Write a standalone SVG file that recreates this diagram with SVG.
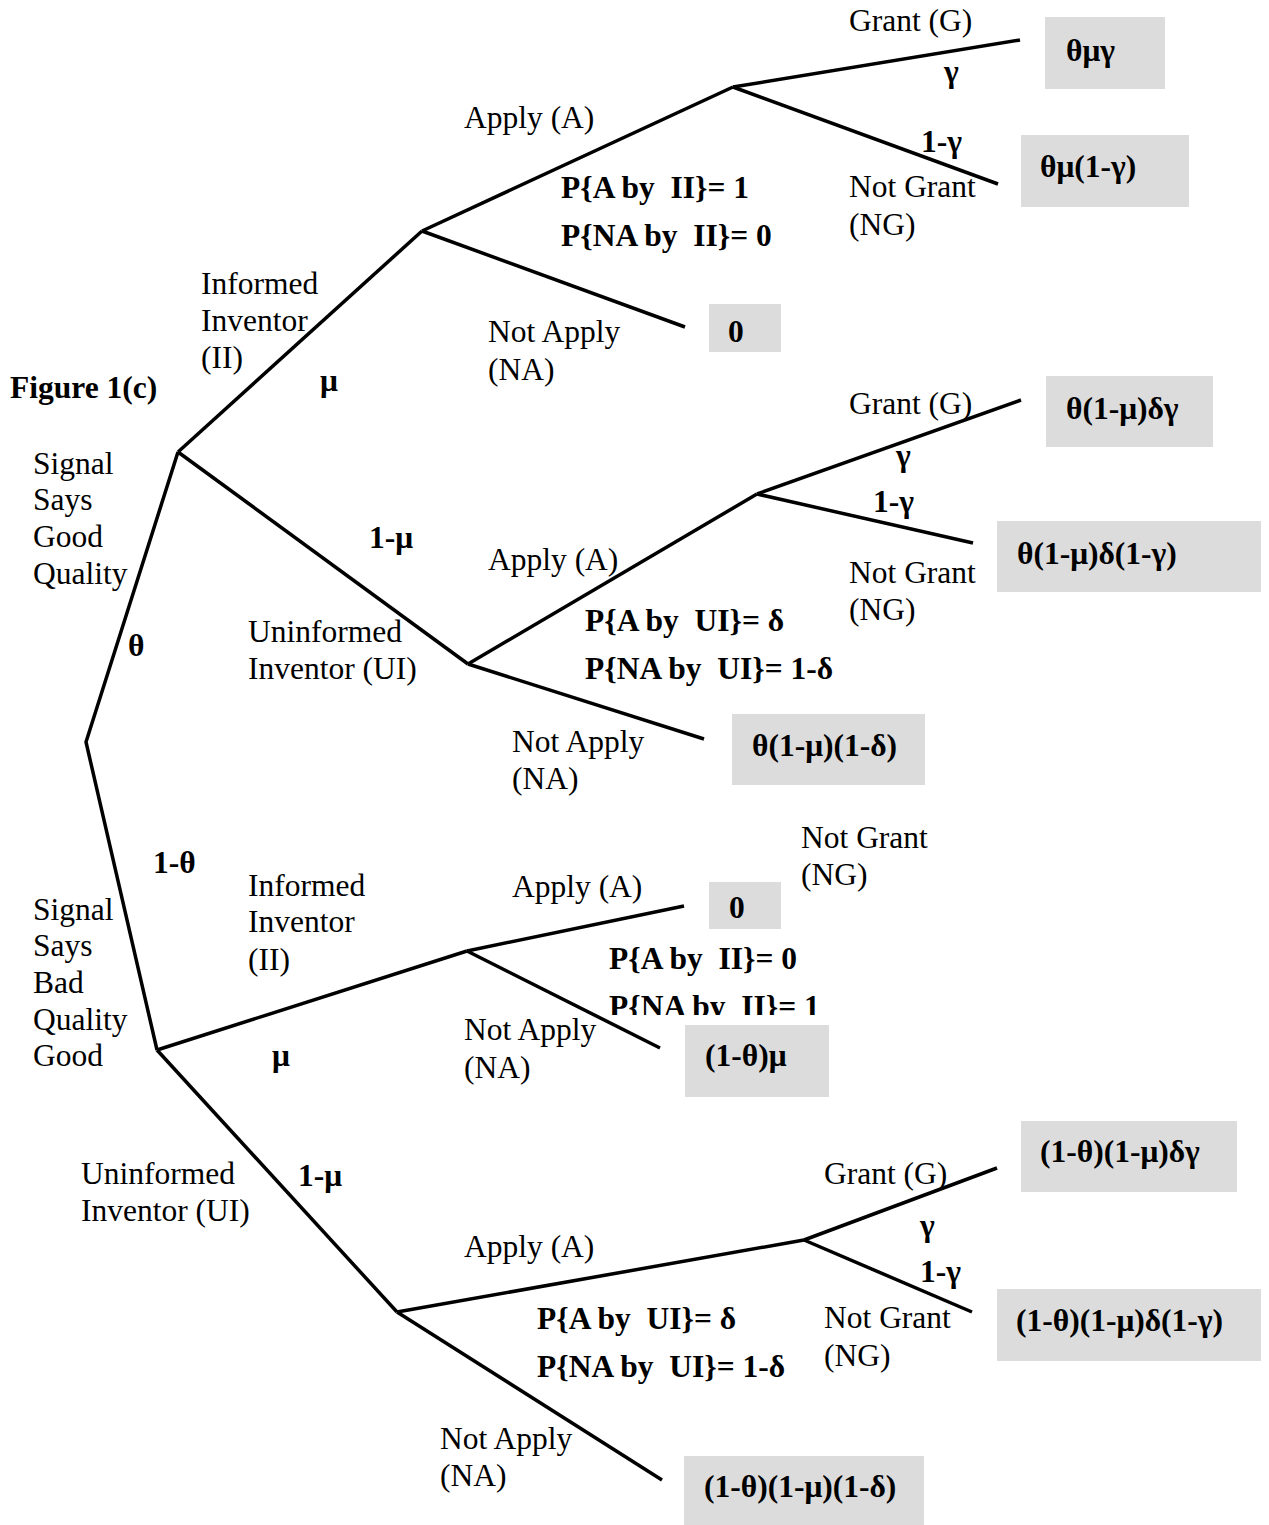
<svg xmlns="http://www.w3.org/2000/svg" width="1269" height="1525" viewBox="0 0 1269 1525" xml:space="preserve">
<style>
  .t { font-family: "Liberation Serif", "Times New Roman", serif; font-size: 31.5px; fill: #000; white-space: pre; }
  .b { font-family: "Liberation Serif", "Times New Roman", serif; font-size: 31.5px; font-weight: bold; fill: #000; white-space: pre; }
  .edge { stroke: #000; stroke-width: 3.5; fill: none; stroke-linecap: butt; }
  .box { fill: #DCDCDC; stroke: none; }
</style>
<defs>
  <clipPath id="clipNA">
    <rect x="0" y="0" width="1269" height="1015"/>
  </clipPath>
</defs>
<rect x="0" y="0" width="1269" height="1525" fill="#fff"/>
<g id="labels">
  <text class="b" x="10" y="398">Figure 1(c)</text>
  <text class="t" x="33" y="474">Signal</text>
  <text class="t" x="33" y="510">Says</text>
  <text class="t" x="33" y="547">Good</text>
  <text class="t" x="33" y="584">Quality</text>
  <text class="b" x="128" y="656">θ</text>
  <text class="t" x="201" y="294">Informed</text>
  <text class="t" x="201" y="331">Inventor</text>
  <text class="t" x="201" y="368">(II)</text>
  <text class="b" x="320" y="391">μ</text>
  <text class="t" x="464" y="128">Apply (A)</text>
  <text class="b" x="561" y="198">P{A by  II}= 1</text>
  <text class="b" x="561" y="246">P{NA by  II}= 0</text>
  <text class="t" x="488" y="342">Not Apply</text>
  <text class="t" x="488" y="380">(NA)</text>
  <text class="t" x="849" y="31">Grant (G)</text>
  <text class="b" x="944" y="82">γ</text>
  <text class="b" x="921" y="152">1-γ</text>
  <text class="t" x="849" y="197">Not Grant</text>
  <text class="t" x="849" y="235">(NG)</text>
  <text class="b" x="369" y="548">1-μ</text>
  <text class="t" x="248" y="642">Uninformed</text>
  <text class="t" x="248" y="679">Inventor (UI)</text>
  <text class="t" x="488" y="570">Apply (A)</text>
  <text class="b" x="585" y="631">P{A by  UI}= δ</text>
  <text class="b" x="585" y="679">P{NA by  UI}= 1-δ</text>
  <text class="t" x="512" y="752">Not Apply</text>
  <text class="t" x="512" y="789">(NA)</text>
  <text class="t" x="849" y="414">Grant (G)</text>
  <text class="b" x="896" y="466">γ</text>
  <text class="b" x="873" y="512">1-γ</text>
  <text class="t" x="849" y="583">Not Grant</text>
  <text class="t" x="849" y="620">(NG)</text>
  <text class="b" x="153" y="873">1-θ</text>
  <text class="t" x="33" y="920">Signal</text>
  <text class="t" x="33" y="956">Says</text>
  <text class="t" x="33" y="993">Bad</text>
  <text class="t" x="33" y="1030">Quality</text>
  <text class="t" x="33" y="1066">Good</text>
  <text class="t" x="248" y="896">Informed</text>
  <text class="t" x="248" y="932">Inventor</text>
  <text class="t" x="248" y="970">(II)</text>
  <text class="b" x="272" y="1066">μ</text>
  <text class="t" x="512" y="897">Apply (A)</text>
  <text class="t" x="801" y="848">Not Grant</text>
  <text class="t" x="801" y="885">(NG)</text>
  <text class="b" x="609" y="969">P{A by  II}= 0</text>
  <text class="b" x="609" y="1017" clip-path="url(#clipNA)">P{NA by  II}= 1</text>
  <text class="t" x="464" y="1040">Not Apply</text>
  <text class="t" x="464" y="1078">(NA)</text>
  <text class="t" x="81" y="1184">Uninformed</text>
  <text class="t" x="81" y="1221">Inventor (UI)</text>
  <text class="b" x="298" y="1186">1-μ</text>
  <text class="t" x="464" y="1257">Apply (A)</text>
  <text class="b" x="537" y="1329">P{A by  UI}= δ</text>
  <text class="b" x="537" y="1377">P{NA by  UI}= 1-δ</text>
  <text class="t" x="440" y="1449">Not Apply</text>
  <text class="t" x="440" y="1486">(NA)</text>
  <text class="t" x="824" y="1184">Grant (G)</text>
  <text class="b" x="920" y="1236">γ</text>
  <text class="b" x="920" y="1282">1-γ</text>
  <text class="t" x="824" y="1328">Not Grant</text>
  <text class="t" x="824" y="1366">(NG)</text>
</g>
<g id="connectors">
  <polyline class="edge" points="178,452 86,742 157,1050"/>
  <line class="edge" x1="178" y1="452" x2="422" y2="231"/>
  <line class="edge" x1="178" y1="452" x2="468" y2="664"/>
  <line class="edge" x1="422" y1="231" x2="733" y2="87"/>
  <line class="edge" x1="422" y1="231" x2="685" y2="327"/>
  <line class="edge" x1="733" y1="87" x2="1020" y2="40"/>
  <line class="edge" x1="733" y1="87" x2="998" y2="184"/>
  <line class="edge" x1="468" y1="664" x2="757" y2="494"/>
  <line class="edge" x1="468" y1="664" x2="704" y2="739"/>
  <line class="edge" x1="757" y1="494" x2="1021" y2="400"/>
  <line class="edge" x1="757" y1="494" x2="973" y2="543"/>
  <line class="edge" x1="157" y1="1050" x2="467" y2="951"/>
  <line class="edge" x1="157" y1="1050" x2="397" y2="1312"/>
  <line class="edge" x1="467" y1="951" x2="684" y2="906"/>
  <line class="edge" x1="467" y1="951" x2="660" y2="1048"/>
  <line class="edge" x1="397" y1="1312" x2="804" y2="1240"/>
  <line class="edge" x1="397" y1="1312" x2="662" y2="1480"/>
  <line class="edge" x1="804" y1="1240" x2="997" y2="1168"/>
  <line class="edge" x1="804" y1="1240" x2="972" y2="1312"/>
</g>
<g id="out-theta-mu-gamma">
  <rect class="box" x="1045" y="17" width="120" height="72"/>
  <text class="b" x="1066" y="61">θμγ</text>
</g>
<g id="out-theta-mu-1-gamma">
  <rect class="box" x="1021" y="135" width="168" height="72"/>
  <text class="b" x="1040" y="177">θμ(1-γ)</text>
</g>
<g id="out-zero-top">
  <rect class="box" x="709" y="304" width="72" height="48"/>
  <text class="b" x="728" y="342">0</text>
</g>
<g id="out-theta-1mu-delta-gamma">
  <rect class="box" x="1046" y="376" width="167" height="71"/>
  <text class="b" x="1066" y="419">θ(1-μ)δγ</text>
</g>
<g id="out-theta-1mu-delta-1gamma">
  <rect class="box" x="997" y="521" width="264" height="71"/>
  <text class="b" x="1017" y="564">θ(1-μ)δ(1-γ)</text>
</g>
<g id="out-theta-1mu-1delta">
  <rect class="box" x="732" y="714" width="193" height="71"/>
  <text class="b" x="752" y="756">θ(1-μ)(1-δ)</text>
</g>
<g id="out-zero-bad">
  <rect class="box" x="709" y="882" width="72" height="47"/>
  <text class="b" x="729" y="918">0</text>
</g>
<g id="out-1theta-mu">
  <rect class="box" x="685" y="1025" width="144" height="72"/>
  <text class="b" x="705" y="1066">(1-θ)μ</text>
</g>
<g id="out-1theta-1mu-delta-gamma">
  <rect class="box" x="1021" y="1121" width="216" height="71"/>
  <text class="b" x="1040" y="1162">(1-θ)(1-μ)δγ</text>
</g>
<g id="out-1theta-1mu-delta-1gamma">
  <rect class="box" x="997" y="1289" width="264" height="72"/>
  <text class="b" x="1016" y="1331">(1-θ)(1-μ)δ(1-γ)</text>
</g>
<g id="out-1theta-1mu-1delta">
  <rect class="box" x="684" y="1456" width="240" height="69"/>
  <text class="b" x="704" y="1497">(1-θ)(1-μ)(1-δ)</text>
</g>
</svg>
